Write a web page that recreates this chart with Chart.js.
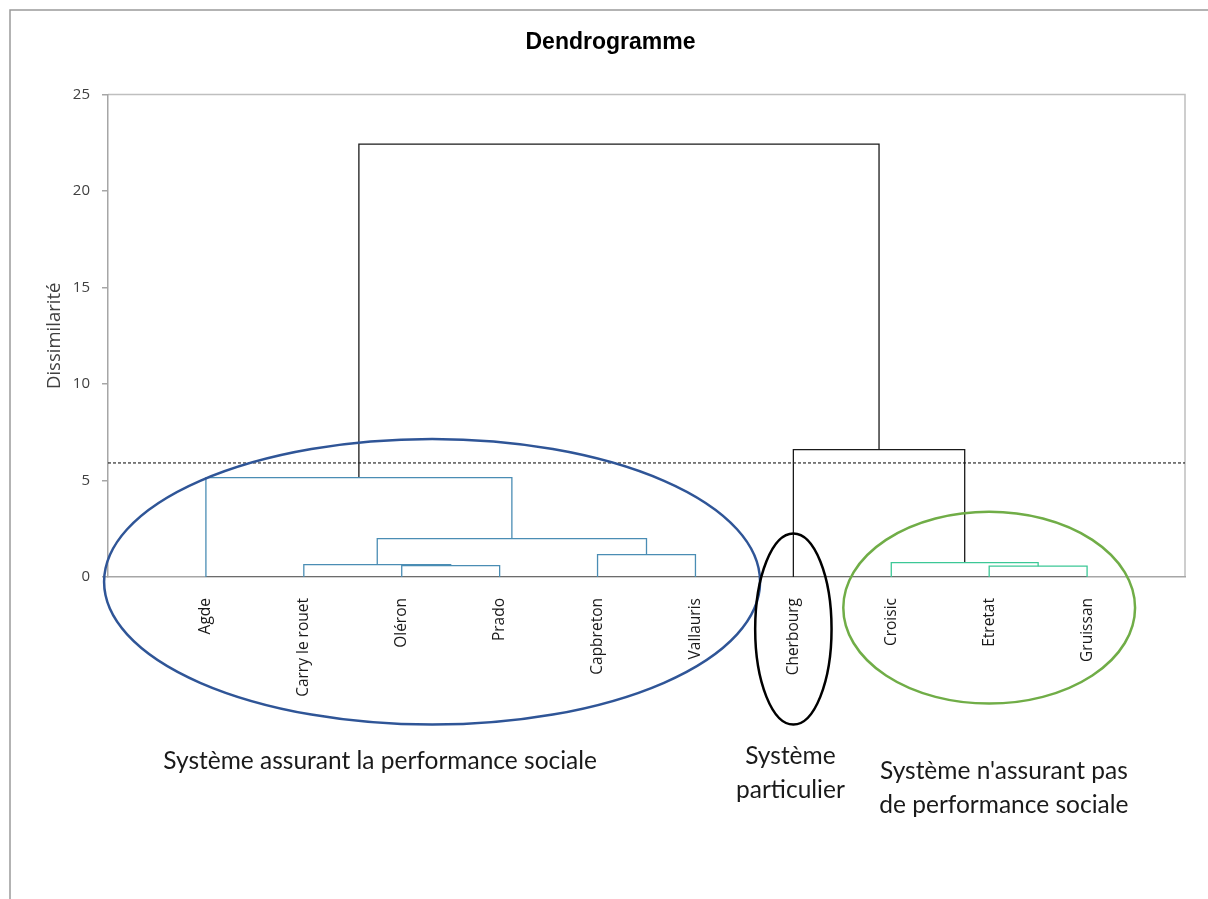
<!DOCTYPE html>
<html>
<head>
<meta charset="utf-8">
<script src="https://cdn.jsdelivr.net/npm/chart.js@4"></script>
<style>
  body { margin: 0; background: #fff; }
  canvas { display: block; }
</style>
</head>
<body>
<canvas id="dendro" width="1208" height="899"></canvas>
<script>
// Feuilles du dendrogramme (ordre d'affichage)
const leaves = ['Agde', 'Carry le rouet', 'Oléron', 'Prado', 'Capbreton', 'Vallauris',
                'Cherbourg', 'Croisic', 'Etretat', 'Gruissan'];
// Groupe de chaque feuille : 0 = performance sociale, 1 = particulier, 2 = pas de performance
const leafGroup = [0, 0, 0, 0, 0, 0, 1, 2, 2, 2];

// Fusions (indices : feuilles 0..9, puis nœuds 10, 11, ...)
const linkLeft   = [2, 8, 1, 7, 4, 12, 0, 6, 16];
const linkRight  = [3, 9, 10, 11, 5, 14, 15, 13, 17];
const linkHeight = [0.59, 0.56, 0.64, 0.75, 1.16, 1.99, 5.15, 6.60, 22.43];

// Troncature
const cutHeight = 5.91;

const yTicks = [0, 5, 10, 15, 20, 25];

// Ellipses et textes des groupes
const groupTitles = [
  ['Système assurant la performance sociale'],
  ['Système', 'particulier'],
  ["Système n'assurant pas", 'de performance sociale']
];
const groupColors = ['#4A8DB4', '#1a1a1a', '#3CC896'];
const ellipseColors = ['#2F5597', '#000000', '#70AD47'];
const ellipses = [
  { cx: 3.31, cy: -0.25, rx: 3.35, ry: 7.40 },
  { cx: 7.00, cy: -2.70, rx: 0.39, ry: 4.95 },
  { cx: 9.00, cy: -1.59, rx: 1.49, ry: 4.97 }
];
const titlePos = [
  { x: 2.78, y: -9.93 },
  { x: 6.97, y: -9.67 },
  { x: 9.15, y: -10.45 }
];

// Position, hauteur et feuilles de chaque nœud
const nodeX = leaves.map((_, i) => i + 1);
const nodeH = leaves.map(() => 0);
const nodeLeaves = leaves.map((_, i) => [i]);
const datasets = [];

linkLeft.forEach((a, k) => {
  const b = linkRight[k];
  const h = linkHeight[k];
  const members = nodeLeaves[a].concat(nodeLeaves[b]);
  const g = leafGroup[members[0]];
  const sameGroup = members.every(m => leafGroup[m] === g);
  const color = (sameGroup && h < cutHeight) ? groupColors[g] : '#1a1a1a';
  datasets.push({
    data: [
      { x: nodeX[a], y: nodeH[a] },
      { x: nodeX[a], y: h },
      { x: nodeX[b], y: h },
      { x: nodeX[b], y: nodeH[b] }
    ],
    borderColor: color,
    borderWidth: 1.3
  });
  nodeX.push((nodeX[a] + nodeX[b]) / 2);
  nodeH.push(h);
  nodeLeaves.push(members);
});

// Ligne de base sous les feuilles
datasets.push({
  data: [{ x: 1, y: 0 }, { x: leaves.length, y: 0 }],
  borderColor: '#595959',
  borderWidth: 1.5
});

// Ligne de troncature
datasets.push({
  data: [{ x: 0, y: cutHeight }, { x: leaves.length + 1, y: cutHeight }],
  borderColor: '#000000',
  borderWidth: 1,
  borderDash: [3, 2]
});

// Cadre extérieur, bordure de la zone de tracé, ellipses et textes
const decorPlugin = {
  id: 'decor',
  beforeDraw(chart) {
    const ctx = chart.ctx;
    ctx.save();
    ctx.fillStyle = '#ffffff';
    ctx.fillRect(0, 0, chart.width, chart.height);
    ctx.strokeStyle = '#9a9a9a';
    ctx.lineWidth = 1.5;
    ctx.beginPath();
    ctx.moveTo(10, chart.height);
    ctx.lineTo(10, 10);
    ctx.lineTo(chart.width, 10);
    ctx.stroke();
    const a = chart.chartArea;
    ctx.strokeStyle = '#BFBFBF';
    ctx.beginPath();
    ctx.moveTo(a.left, a.top);
    ctx.lineTo(a.right, a.top);
    ctx.lineTo(a.right, a.bottom);
    ctx.stroke();
    ctx.restore();
  },
  afterDraw(chart) {
    const ctx = chart.ctx;
    const xs = chart.scales.x, ys = chart.scales.y;
    ctx.save();
    ellipses.forEach((e, i) => {
      const cx = xs.getPixelForValue(e.cx);
      const cy = ys.getPixelForValue(e.cy);
      const rx = xs.getPixelForValue(e.cx + e.rx) - cx;
      const ry = cy - ys.getPixelForValue(e.cy + e.ry);
      ctx.strokeStyle = ellipseColors[i];
      ctx.lineWidth = 2.5;
      ctx.beginPath();
      ctx.ellipse(cx, cy, rx, ry, 0, 0, Math.PI * 2);
      ctx.stroke();
    });
    ctx.fillStyle = '#1a1a1a';
    ctx.font = '24.5px Lato';
    ctx.textAlign = 'center';
    ctx.textBaseline = 'alphabetic';
    groupTitles.forEach((lines, i) => {
      const x = xs.getPixelForValue(titlePos[i].x);
      const y = ys.getPixelForValue(titlePos[i].y);
      lines.forEach((t, j) => ctx.fillText(t, x, y + j * 34));
    });
    ctx.restore();
  }
};

new Chart(document.getElementById('dendro'), {
  type: 'scatter',
  data: { datasets: datasets },
  options: {
    responsive: false,
    animation: false,
    showLine: true,
    layout: { padding: { left: 36, right: 23, top: 0, bottom: 0 } },
    elements: {
      point: { radius: 0, hoverRadius: 0 },
      line: { tension: 0 }
    },
    plugins: {
      legend: { display: false },
      tooltip: { enabled: false },
      title: {
        display: true,
        text: 'Dendrogramme',
        color: '#000000',
        font: { family: 'Liberation Sans', size: 23, weight: 'bold' },
        padding: { top: 29, bottom: 38 }
      }
    },
    scales: {
      x: {
        type: 'linear',
        min: 0,
        max: leaves.length + 1,
        afterBuildTicks: s => { s.ticks = leaves.map((_, i) => ({ value: i + 1 })); },
        afterFit: s => { s.height = 322; },
        ticks: {
          autoSkip: false,
          minRotation: 90,
          maxRotation: 90,
          padding: 21,
          color: '#1a1a1a',
          font: { family: 'Open Sans', size: 15.5 },
          callback: v => leaves[v - 1]
        },
        grid: { drawOnChartArea: false, drawTicks: false },
        border: { color: '#A6A6A6', width: 1.5 }
      },
      y: {
        min: 0,
        max: 25,
        afterBuildTicks: s => { s.ticks = yTicks.map(v => ({ value: v })); },
        afterFit: s => { s.width = 72; },
        ticks: {
          padding: 12,
          color: '#404040',
          font: { family: 'Open Sans', size: 15 }
        },
        grid: { drawOnChartArea: false, drawTicks: true, tickLength: 6, color: '#A6A6A6', lineWidth: 1.5 },
        border: { color: '#A6A6A6', width: 1.5 },
        title: {
          display: true,
          text: 'Dissimilarité',
          color: '#404040',
          font: { family: 'Open Sans', size: 18.5 },
          padding: { top: 8, bottom: 0 }
        }
      }
    }
  },
  plugins: [decorPlugin]
});
</script>
</body>
</html>
